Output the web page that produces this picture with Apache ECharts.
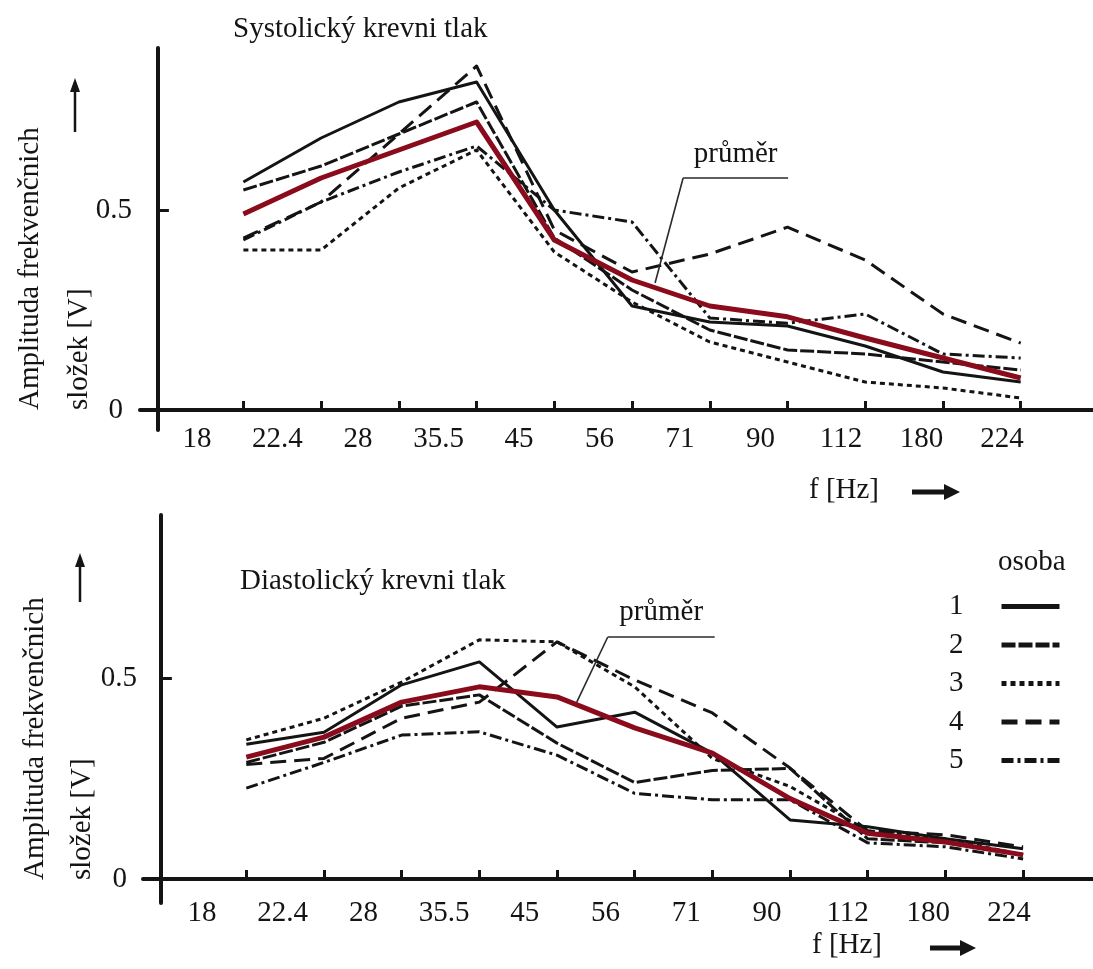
<!DOCTYPE html>
<html>
<head>
<meta charset="utf-8">
<script src="https://cdn.jsdelivr.net/npm/echarts@6/dist/echarts.min.js"></script>
<style>
  html, body { margin: 0; padding: 0; background: #fff; }
  #chart { width: 1093px; height: 969px; }
</style>
</head>
<body>
<div id="chart"></div>
<script>
// Frequency bands [Hz]; each measured point sits on the upper edge of its band
const bands = ['18', '22.4', '28', '35.5', '45', '56', '71', '90', '112', '180', '224'];
const persons = ['1', '2', '3', '4', '5'];
const meanName = 'průměr';

// Systolic pressure – amplitude of frequency components [V]
const sys1 = [0.57, 0.68, 0.77, 0.82, 0.50, 0.26, 0.22, 0.21, 0.16, 0.095, 0.07];
const sys2 = [0.55, 0.61, 0.69, 0.77, 0.43, 0.30, 0.20, 0.15, 0.14, 0.12, 0.10];
const sys3 = [0.40, 0.40, 0.555, 0.65, 0.395, 0.27, 0.17, 0.12, 0.07, 0.055, 0.03];
const sys4 = [0.43, 0.52, 0.69, 0.86, 0.45, 0.345, 0.39, 0.457, 0.375, 0.24, 0.167];
const sys5 = [0.425, 0.52, 0.595, 0.66, 0.50, 0.47, 0.23, 0.217, 0.24, 0.14, 0.13];
const sysMean = [0.49, 0.58, 0.65, 0.72, 0.425, 0.325, 0.26, 0.233, 0.18, 0.13, 0.08];

// Diastolic pressure – amplitude of frequency components [V]
const dia1 = [0.335, 0.365, 0.483, 0.54, 0.378, 0.415, 0.313, 0.147, 0.13, 0.10, 0.075];
const dia2 = [0.29, 0.34, 0.43, 0.458, 0.338, 0.24, 0.27, 0.275, 0.10, 0.09, 0.06];
const dia3 = [0.346, 0.40, 0.49, 0.595, 0.59, 0.478, 0.30, 0.23, 0.12, 0.10, 0.06];
const dia4 = [0.285, 0.30, 0.40, 0.44, 0.59, 0.495, 0.413, 0.276, 0.12, 0.11, 0.08];
const dia5 = [0.226, 0.29, 0.358, 0.366, 0.308, 0.213, 0.197, 0.197, 0.09, 0.08, 0.05];
const diaMean = [0.303, 0.353, 0.44, 0.478, 0.453, 0.376, 0.313, 0.20, 0.114, 0.092, 0.06];

// Y tick labels
const yTickValues = [0, 0.5];
const yTickLabels = ['0', '0.5'];

// ---- layout / style -------------------------------------------------------
const EDGE = 1.1;                 // distance (in bands) from the y axis to the first band edge
const FONT = '"Liberation Serif", "Times New Roman", serif';
const INK = '#141414';
const MEAN_COLOR = '#8a0b1b';

const personLine = [
  { type: 'solid' },
  { type: [14, 3] },
  { type: [5, 4] },
  { type: [16, 8] },
  { type: [12, 4, 3, 4] }
];

const edgeValues = bands.map((_, i) => i + EDGE);
const toPoints = arr => arr.map((v, i) => [i + EDGE, v]);

function dataXAxis(gridIndex, max) {
  return {
    type: 'value', gridIndex, min: -0.23, max, position: 'bottom',
    axisLine: { show: true, onZero: true, lineStyle: { color: INK, width: 4 } },
    axisTick: { show: true, inside: true, length: 9, customValues: edgeValues,
                lineStyle: { color: INK, width: 3 } },
    axisLabel: { show: false },
    splitLine: { show: false }
  };
}
function labelXAxis(gridIndex, min, max, offset, margin) {
  return {
    type: 'value', gridIndex, min, max, offset, position: 'bottom',
    axisLine: { show: false, onZero: false },
    axisTick: { show: false },
    splitLine: { show: false },
    axisLabel: {
      customValues: bands.map((_, i) => i),
      formatter: v => bands[Math.round(v)],
      margin, color: INK, fontFamily: FONT, fontSize: 29
    }
  };
}
function yAxisOf(gridIndex, min, max, margin, zeroPad) {
  return {
    type: 'value', gridIndex, min, max,
    axisLine: { show: true, onZero: true, lineStyle: { color: INK, width: 4 } },
    axisTick: { show: true, inside: true, length: 11,
                customValues: yTickValues.filter(v => v !== 0),
                lineStyle: { color: INK, width: 3 } },
    axisLabel: {
      customValues: yTickValues,
      formatter: v => (v === 0 ? '{z|' : '{n|') + yTickLabels[yTickValues.indexOf(v)] + '}',
      margin, color: INK, fontFamily: FONT, fontSize: 29,
      rich: {
        z: { fontFamily: FONT, fontSize: 29, color: INK, padding: [0, zeroPad, 0, 0] },
        n: { fontFamily: FONT, fontSize: 29, color: INK }
      }
    },
    splitLine: { show: false }
  };
}

function personSeries(values, k, xi, yi) {
  return {
    type: 'line', name: persons[k], xAxisIndex: xi, yAxisIndex: yi,
    data: toPoints(values), symbol: 'none', silent: true,
    lineStyle: Object.assign({ color: INK, width: 3, cap: 'butt', join: 'round' }, personLine[k]),
    itemStyle: { color: INK }
  };
}
function leader(seg1, seg2, dist) {
  return {
    symbol: ['none', 'none'], silent: true, animation: false,
    lineStyle: { color: '#2a2a2a', width: 1.6, type: 'solid' },
    label: { show: false },
    data: [
      [{ coord: seg1[0], label: { show: true, formatter: meanName, position: 'insideMiddleTop',
          distance: dist, color: INK, fontFamily: FONT, fontSize: 29 } },
       { coord: seg1[1] }],
      [{ coord: seg2[0] }, { coord: seg2[1] }]
    ]
  };
}
function meanSeries(values, xi, yi, markLine) {
  return {
    type: 'line', name: meanName, xAxisIndex: xi, yAxisIndex: yi,
    data: toPoints(values), symbol: 'none', silent: true, z: 5,
    lineStyle: { color: MEAN_COLOR, width: 5, join: 'round' },
    itemStyle: { color: MEAN_COLOR },
    markLine
  };
}

const sysSets = [sys1, sys2, sys3, sys4, sys5];
const diaSets = [dia1, dia2, dia3, dia4, dia5];

const series = [];
sysSets.forEach((arr, k) => series.push(personSeries(arr, k, 0, 0)));
series.push(meanSeries(sysMean, 0, 0,
  leader([[6.757, 0.58], [8.108, 0.58]], [[6.757, 0.58], [6.396, 0.3175]], 9)));
diaSets.forEach((arr, k) => series.push(personSeries(arr, k, 2, 1)));
series.push(meanSeries(diaMean, 2, 1,
  leader([[5.753, 0.602], [7.13, 0.602]], [[5.753, 0.602], [5.354, 0.44]], 10)));

const textStyle = (size) => ({ fontFamily: FONT, fontSize: size, fontWeight: 'normal', color: INK });

function vText(x, y, text) {
  return { type: 'text', x, y, rotation: Math.PI / 2, silent: true,
    style: { text, font: '29px ' + FONT, fill: INK, align: 'left', verticalAlign: 'middle' } };
}
function upArrow(x, yTop, yBottom) {
  return [
    { type: 'line', silent: true, shape: { x1: x, y1: yBottom, x2: x, y2: yTop + 10 },
      style: { stroke: INK, lineWidth: 2.5 } },
    { type: 'polygon', silent: true, shape: { points: [[x, yTop], [x - 5, yTop + 14], [x + 5, yTop + 14]] },
      style: { fill: INK } }
  ];
}
function rightArrow(xLeft, xRight, y) {
  return [
    { type: 'line', silent: true, shape: { x1: xLeft, y1: y, x2: xRight - 12, y2: y },
      style: { stroke: INK, lineWidth: 5 } },
    { type: 'polygon', silent: true,
      shape: { points: [[xRight, y], [xRight - 16, y - 8], [xRight - 16, y + 8]] },
      style: { fill: INK } }
  ];
}
function hzText(x, y) {
  return { type: 'text', x, y, silent: true,
    style: { text: 'f [Hz]', font: '29px ' + FONT, fill: INK, align: 'center', verticalAlign: 'middle' } };
}

const option = {
  animation: false,
  backgroundColor: '#fff',
  title: [
    { text: 'Systolický krevni tlak', left: 233, top: 15, padding: 0, textStyle: textStyle(29) },
    { text: 'Diastolický krevni tlak', left: 240, top: 567, padding: 0, textStyle: textStyle(29) },
    { text: 'osoba', left: 998, top: 548, padding: 0, textStyle: textStyle(29) }
  ],
  legend: {
    data: persons, orient: 'vertical', align: 'right',
    left: 944, top: 587, itemWidth: 58, itemHeight: 14, itemGap: 9.5,
    selectedMode: false,
    lineStyle: { width: 5 },
    itemStyle: { color: 'rgba(0,0,0,0)', borderWidth: 0, opacity: 0 },
    textStyle: { fontFamily: FONT, fontSize: 29, lineHeight: 29, color: INK, padding: [0, 33, 0, 0] }
  },
  grid: [
    { left: 140, right: 0, top: 48, height: 382 },
    { left: 143, right: 0, top: 515, height: 388 }
  ],
  xAxis: [
    dataXAxis(0, 12.03),
    labelXAxis(0, -0.708, 11.13, -20, 15),
    dataXAxis(1, 12.0),
    labelXAxis(1, -0.731, 11.04, -24, 20)
  ],
  yAxis: [
    yAxisOf(0, -0.05, 0.905, 8, 9),
    yAxisOf(1, -0.0597, 0.9055, 6, 10)
  ],
  graphic: [
    vText(30, 410, 'Amplituda frekvenčnich'),
    vText(79, 410, 'složek [V]'),
    vText(35, 880, 'Amplituda frekvenčnich'),
    vText(82, 880, 'složek [V]'),
    ...upArrow(75, 78, 132),
    ...upArrow(80, 553, 602),
    hzText(844, 490),
    hzText(847, 945),
    ...rightArrow(912, 960, 492),
    ...rightArrow(930, 976, 948)
  ],
  series
};

const chart = echarts.init(document.getElementById('chart'), null, { renderer: 'canvas' });
chart.setOption(option);
</script>
</body>
</html>
